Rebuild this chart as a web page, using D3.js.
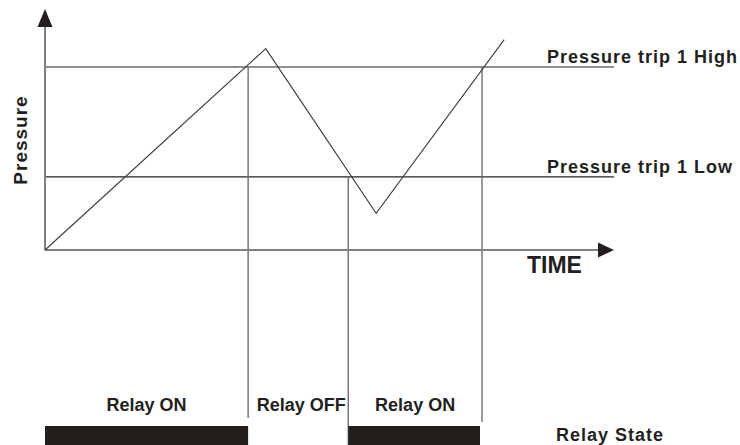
<!DOCTYPE html>
<html>
<head>
<meta charset="utf-8">
<script src="https://cdn.jsdelivr.net/npm/d3@7"></script>
<style>
  body { margin: 0; background: #fff; }
  text { font-family: "Liberation Sans", Arial, sans-serif; font-weight: bold; fill: #231f20; }
</style>
</head>
<body>
<div id="chart"></div>
<script>
// pressure curve, [time, pressure] (time 0-100, pressure 0-100 = trip high)
var curveTimes = [0, 38.8, 58.2, 80.7];
var curvePressures = [0, 110, 20, 115];

// trip levels
var tripNames = ["Pressure trip 1 High", "Pressure trip 1 Low"];
var tripLevels = [100, 40];

// relay switching times and the states between them
var switchTimes = [35.7, 53.3, 76.8];
var relayStates = ["Relay ON", "Relay OFF", "Relay ON"];
var relayOn = [true, false, true];

(function() {
    var svgWidth = 740, svgHeight = 445;
    var svg = d3.select("#chart").append("svg")
        .attr("width", svgWidth)
        .attr("height", svgHeight);

    var x = d3.scaleLinear().domain([0, 100]).range([45, 614]);
    var y = d3.scaleLinear().domain([0, 100]).range([250, 67]);

    var axisColor = "#808080";

    // trip level lines
    svg.selectAll(".trip")
        .data(tripLevels)
        .enter().append("line")
        .attr("class", "trip")
        .attr("x1", x(0)).attr("x2", x(100))
        .attr("y1", d => y(d)).attr("y2", d => y(d))
        .attr("stroke", "#231f20")
        .attr("stroke-width", 1.2);

    svg.selectAll(".tripLabel")
        .data(tripNames)
        .enter().append("text")
        .attr("class", "tripLabel")
        .attr("x", x(100) - 67)
        .attr("y", (d, i) => y(tripLevels[i]) - 4)
        .style("font-size", "18px")
        .style("letter-spacing", "1px")
        .text(d => d);

    // relay switch verticals
    var vEnds = [418, 445, 422];
    var vStarts = [tripLevels[0], tripLevels[1], tripLevels[0]];
    svg.selectAll(".switch")
        .data(switchTimes)
        .enter().append("line")
        .attr("class", "switch")
        .attr("x1", d => x(d)).attr("x2", d => x(d))
        .attr("y1", (d, i) => y(vStarts[i]))
        .attr("y2", (d, i) => vEnds[i])
        .attr("stroke", "#6f6f6f")
        .attr("stroke-width", 1.4);

    // axes with arrows
    svg.append("line")
        .attr("x1", x(0)).attr("x2", x(0))
        .attr("y1", y(0)).attr("y2", 27)
        .attr("stroke", axisColor).attr("stroke-width", 2);
    svg.append("path")
        .attr("d", "M" + x(0) + ",9 L" + (x(0) - 7.5) + ",27 L" + (x(0) + 7.5) + ",27 Z")
        .attr("fill", "#231f20");

    svg.append("line")
        .attr("x1", x(0)).attr("x2", x(100) - 16)
        .attr("y1", y(0)).attr("y2", y(0))
        .attr("stroke", axisColor).attr("stroke-width", 2);
    svg.append("path")
        .attr("d", "M" + x(100) + "," + y(0) + " L" + (x(100) - 16) + "," + (y(0) - 7.5) + " L" + (x(100) - 16) + "," + (y(0) + 7.5) + " Z")
        .attr("fill", "#231f20");

    // pressure curve
    var line = d3.line()
        .x((d, i) => x(curveTimes[i]))
        .y(d => y(d));
    svg.append("path")
        .datum(curvePressures)
        .attr("d", line)
        .attr("fill", "none")
        .attr("stroke", "#3a3a3a")
        .attr("stroke-width", 1.1);

    // axis labels
    svg.append("text")
        .attr("transform", "translate(27,140) rotate(-90)")
        .attr("text-anchor", "middle")
        .style("font-size", "19px")
        .style("letter-spacing", "1px")
        .text("Pressure");

    svg.append("text")
        .attr("x", 527)
        .attr("y", 273)
        .style("font-size", "23px")
        .text("TIME");

    // relay state bars and labels
    var bounds = [0].concat(switchTimes);
    var segStart = relayStates.map((d, i) => bounds[i]);
    var segEnd = relayStates.map((d, i) => bounds[i + 1]);

    relayStates.forEach(function(s, i) {
        if (relayOn[i]) {
            svg.append("rect")
                .attr("class", "relayBar")
                .attr("x", x(segStart[i]))
                .attr("y", 426)
                .attr("width", x(segEnd[i]) - x(segStart[i]) - (i === 2 ? 2 : 0))
                .attr("height", 20)
                .attr("fill", "#231f1c");
        }
    });

    svg.selectAll(".relayLabel")
        .data(relayStates)
        .enter().append("text")
        .attr("class", "relayLabel")
        .attr("x", (d, i) => (x(segStart[i]) + x(segEnd[i])) / 2 + (relayOn[i] ? 0 : 3))
        .attr("y", 411)
        .attr("text-anchor", "middle")
        .style("font-size", "18px")
        .text(d => d);

    svg.append("text")
        .attr("x", 556)
        .attr("y", 441)
        .style("font-size", "18px")
        .style("letter-spacing", "1px")
        .text("Relay State");
})();
</script>
</body>
</html>
